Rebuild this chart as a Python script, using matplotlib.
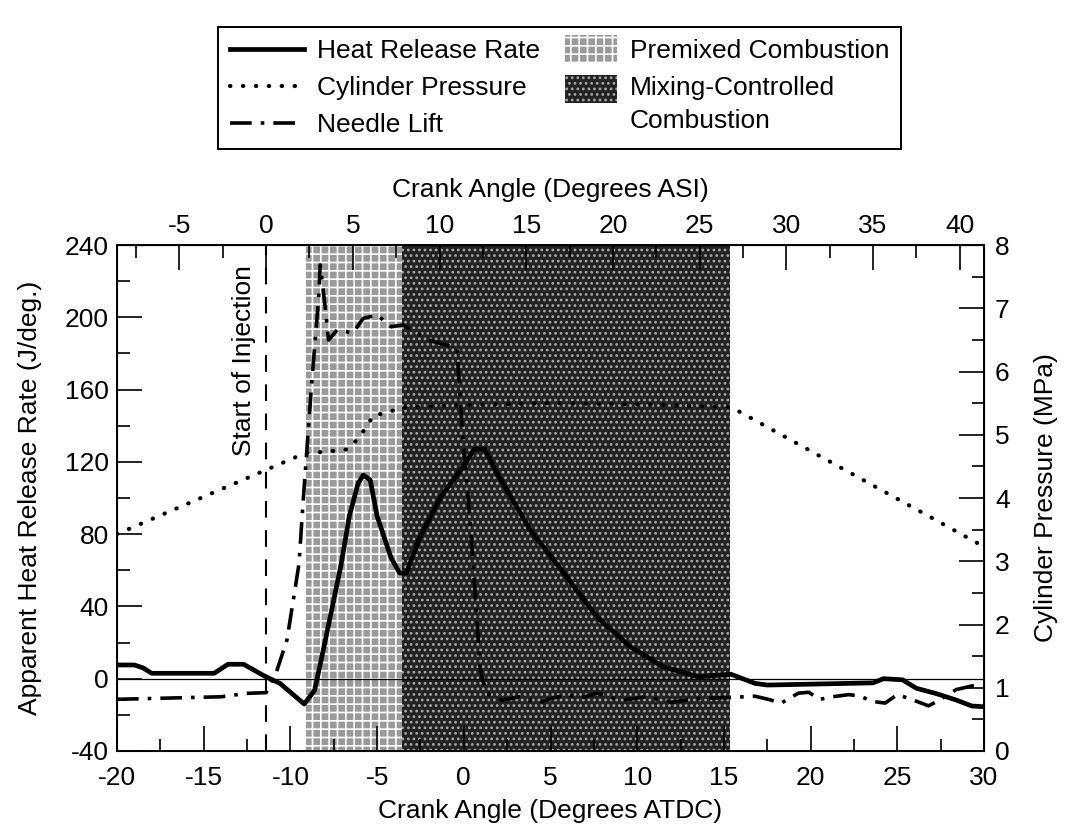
import matplotlib
matplotlib.use('Agg')
import matplotlib.pyplot as plt
from matplotlib.patches import Rectangle, Patch
from matplotlib.lines import Line2D
from matplotlib.legend_handler import HandlerPatch
from matplotlib.ticker import MultipleLocator

plt.rcParams['font.family'] = ['Liberation Sans', 'DejaVu Sans']
plt.rcParams['hatch.linewidth'] = 1.2
plt.rcParams['axes.unicode_minus'] = False

# crank angle of start of injection (ATDC), ASI = ATDC - soi
soi = -11.4
premix_start = -9.1
mix_start = -3.55
mix_end = 15.35

# heat release rate (J/deg)
hrr_x = [-20, -19, -18.5, -18, -14.4, -13.6, -12.7, -11.5, -10.6, -9.2, -8.6, -8.1,
         -7.1, -6.6, -6.1, -5.8, -5.4, -5.0, -4.2, -3.7, -3.3, -2.6, -1.3, 0.0, 0.6,
         1.2, 1.9, 3.85, 5.8, 7.7, 9.6, 11.5, 13.5, 15.4, 16.8, 17.5, 23.6, 24.2,
         25.3, 26.1, 27.2, 28.4, 29.3, 30]
hrr_y = [7.6, 7.6, 6, 3, 3, 8, 8, 1.5, -2.6, -14, -6.3, 16,
         62, 90, 108, 112.7, 110, 90, 67, 58.5, 58.5, 77, 101, 118, 127,
         127, 114, 82, 58, 34, 17.7, 6.6, 1.1, 2.5, -2.6, -3.5, -2.3, 0,
         -0.6, -5.3, -8.1, -11.8, -15.1, -15.5]

# needle lift (drawn on left scale)
nl_x = [-20, -14, -12.5, -11.4, -10.8, -10.2, -9.8, -9.5, -9.3, -9.05, -8.8, -8.57,
        -8.38, -8.28, -8.0, -7.8, -7.3, -6.4, -5.8, -5.0, -4.2, -3.5, -1.9, -0.4,
        -0.1, 0.3, 0.6, 0.95, 1.3, 2.2, 3.2, 4.3, 5.0, 5.9, 6.8, 7.7, 9.0, 10.5, 12,
        13.5, 15.5, 16.8, 17.6, 18.3, 19.3, 19.9, 20.5, 21.25, 22.2, 22.8, 23.6, 24.3,
        25.0, 25.7, 26.8, 27.4, 28.4, 29.3, 30]
nl_y = [-11.4, -10, -8.1, -7.7, 3.9, 21.4, 45.4, 63.9, 93.4, 126.6, 160, 187.4,
        209.6, 229, 205.9, 187.4, 193, 191.3, 199.4, 201.3, 194.8, 195.7, 187, 183,
        140, 95, 55, 5, -8, -12, -10, -13.6, -11, -9, -10.5, -8, -12, -10, -13,
        -11, -10.3, -9.7, -11.5, -13.5, -8, -7.5, -11.5, -10, -8.8, -9.5, -12.6, -13.5,
        -8.8, -11, -15, -12, -6, -4, -4]

# cylinder pressure (MPa)
p_x = [-20, -9.15, -8.0, -6.7, -6.2, -5.7, -5.2, -4.5, -3.6, 0, 5, 10, 15.4, 30]
p_y = [3.43, 4.71, 4.73, 4.77, 4.91, 5.09, 5.31, 5.34, 5.43, 5.47, 5.5, 5.48, 5.44, 3.23]

fs = 19
premix_style = dict(facecolor='#9a9a9a', edgecolor='white', hatch='++', lw=0)
mix_style = dict(facecolor='#222222', edgecolor='#a8a8a8', hatch='...', lw=0)

fig = plt.figure(figsize=(10.69, 8.4), dpi=100)
ax = fig.add_axes([117/1069, 1 - 751/840, 867/1069, 506/840])

ax.axvspan(premix_start, mix_start, zorder=0, **premix_style)
ax.axvspan(mix_start, mix_end, zorder=0, **mix_style)

ax.axhline(0, color='black', lw=0.9, zorder=1)
ax.axvline(soi, color='black', lw=1.5, linestyle=(0, (8, 6)), zorder=2)
ax.text(soi - 1.3, 176, 'Start of Injection', rotation=90, ha='center', va='center',
        fontsize=fs)

ax.plot(hrr_x, hrr_y, color='black', lw=3.4, zorder=3)
ax.plot(nl_x, nl_y, color='black', lw=2.6, linestyle=(0, (6, 2.5, 1, 2.5)), zorder=3)

ax.set_xlim(-20, 30)
ax.set_ylim(-40, 240)
ax.xaxis.set_major_locator(MultipleLocator(5))
ax.xaxis.set_minor_locator(MultipleLocator(2.5))
ax.yaxis.set_major_locator(MultipleLocator(40))
ax.yaxis.set_minor_locator(MultipleLocator(20))
ax.tick_params(which='major', direction='in', length=18, width=1.2, labelsize=fs,
               right=False, top=False)
ax.tick_params(which='minor', direction='in', length=9, width=1.2, right=False, top=False)
ax.tick_params(axis='x', which='major', pad=11)
ax.tick_params(axis='y', which='major', pad=6)
ax.set_xlabel('Crank Angle (Degrees ATDC)', fontsize=fs, labelpad=6)
for s in ax.spines.values():
    s.set_linewidth(1.4)
fig.text(30/1069, 1 - 498/840, 'Apparent Heat Release Rate (J/deg.)', rotation=90,
         ha='center', va='center', fontsize=fs)

ax2 = ax.twinx()
ax2.plot(p_x, p_y, color='black', lw=3.0, linestyle=(0, (0.1, 3)),
         dash_capstyle='round')
ax2.set_ylim(0, 8)
ax2.yaxis.set_major_locator(MultipleLocator(1))
ax2.yaxis.set_minor_locator(MultipleLocator(0.5))
ax2.tick_params(which='major', direction='in', length=18, width=1.2, labelsize=fs, pad=8)
ax2.tick_params(which='minor', direction='in', length=9, width=1.2)
fig.text(1046/1069, 1 - 498/840, 'Cylinder Pressure (MPa)', rotation=90,
         ha='center', va='center', fontsize=fs)

sec = ax.secondary_xaxis('top', functions=(lambda x: x - soi, lambda x: x + soi))
sec.xaxis.set_major_locator(MultipleLocator(5))
sec.xaxis.set_minor_locator(MultipleLocator(2.5))
sec.tick_params(which='major', direction='in', length=18, width=1.2, labelsize=fs, pad=5)
sec.tick_params(which='minor', direction='in', length=9, width=1.2)
sec.set_xlabel('Crank Angle (Degrees ASI)', fontsize=fs, labelpad=12)


def small_patch(legend, orig_handle, xdescent, ydescent, width, height, fontsize):
    w = width * 0.7
    lift = 0.6 * fontsize if orig_handle.get_gid() == 'two_lines' else 0
    return Rectangle((-xdescent + width - w, -ydescent - 0.25 * height + lift),
                     w, height * 1.5)


mix_handle = Patch(**mix_style)
mix_handle.set_gid('two_lines')
handles = [
    Line2D([], [], color='black', lw=3.4),
    Line2D([], [], color='black', lw=3.0, linestyle=(0, (0.1, 3)), dash_capstyle='round'),
    Line2D([], [], color='black', lw=2.6, linestyle=(0, (6, 2.5, 1, 2.5))),
    Patch(**premix_style),
    mix_handle,
]
labels = ['Heat Release Rate', 'Cylinder Pressure', 'Needle Lift',
          'Premixed Combustion', 'Mixing-Controlled\nCombustion']
leg = fig.legend(handles, labels, loc='upper left', ncol=2, fontsize=fs,
                 bbox_to_anchor=(205/1069, 1 - 14/840), frameon=True, fancybox=False,
                 edgecolor='black', framealpha=1, handlelength=2.8, handletextpad=0.5,
                 columnspacing=0.1, labelspacing=0.5, borderpad=0.45,
                 handler_map={Patch: HandlerPatch(patch_func=small_patch)})
leg.get_frame().set_linewidth(1.4)
for t in leg.get_texts():
    t.set_linespacing(1.45)

fig.savefig('out.png', dpi=100)
